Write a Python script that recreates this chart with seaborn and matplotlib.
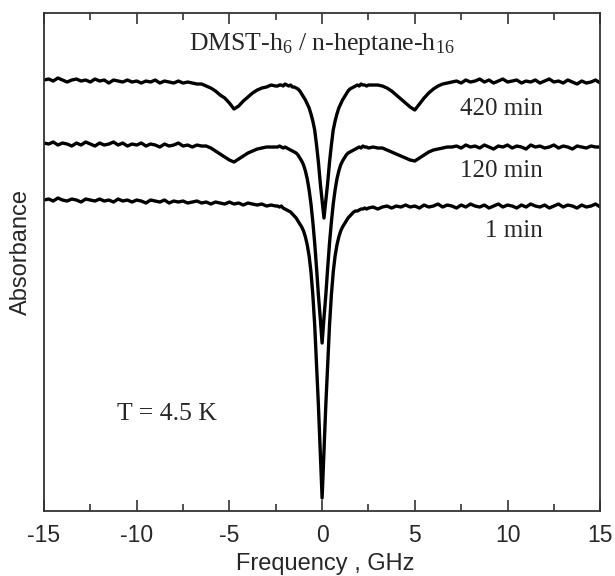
import numpy as np
import pandas as pd
import matplotlib
matplotlib.use("Agg")
import matplotlib.pyplot as plt
from matplotlib.ticker import MultipleLocator
import seaborn as sns

# frequency grid (GHz): coarse in the wings, finer across the central line
freq = np.concatenate([np.linspace(-15, -2.5, 51),
                       np.linspace(-2.4, 2.4, 49),
                       np.linspace(2.5, 15, 51)])

# absorbance (arbitrary units)
abs_420 = [
    431, 432, 430, 433, 431, 429, 431, 432, 430, 431,
    429, 432, 430, 431, 428, 431, 430, 429, 431, 429,
    430, 428, 430, 429, 431, 428, 430, 429, 428, 430,
    428, 429, 428, 427, 427, 425, 423, 420, 416, 413,
    408, 402, 405, 410, 414, 418, 421, 423, 424, 426,
    425,
    425, 426, 426, 425, 427, 426, 425, 426, 424, 424, 423, 422,
    420, 417, 414, 411, 407, 403, 397, 390, 381, 366, 349, 328,
    311, 293, 311, 328, 349, 366, 381, 390, 397, 403, 407, 411, 414,
    417, 420, 422, 423, 424, 425, 426, 425, 427, 426, 426, 425,
    426, 426, 426, 425, 423, 420, 416, 412, 408, 404,
    401, 407, 413, 418, 422, 425, 427, 428, 429,
    430, 428, 431, 429, 430, 432, 429, 431, 428, 430, 432, 429, 430, 431,
    428, 430, 429, 431, 428, 430, 432, 429, 430, 428, 431, 429, 427, 430,
    428, 429, 431, 428,
]

abs_120 = [
    368, 367, 369, 366, 368, 367, 365, 368, 366, 369,
    367, 365, 368, 366, 367, 369, 366, 368, 365, 367,
    366, 368, 365, 367, 366, 364, 367, 365, 366, 368,
    365, 366, 364, 366, 365,
    365, 363, 360, 357, 354, 351, 349, 352, 355, 358, 360, 362, 363, 364, 364, 364,
    364, 365, 364, 363, 364, 363, 362, 361, 360, 359, 358, 356,
    353, 350, 346, 340, 332, 321, 307, 289, 268, 243, 216, 193,
    168, 193, 216, 243, 268, 289, 307, 321, 332, 340, 346, 350, 353,
    356, 358, 359, 360, 361, 362, 363, 364, 363, 365, 364, 364,
    363, 364, 363, 363, 361, 359, 357, 355, 353, 351,
    350, 353, 356, 359, 361, 362, 363, 364, 364,
    365, 363, 366, 364, 365, 363, 366, 364, 362, 365, 364, 366, 363, 365,
    364, 362, 366, 364, 365, 363, 364, 366, 363, 365, 364, 362, 365, 364,
    363, 365, 364, 364,
]

abs_1 = [
    311, 312, 310, 313, 311, 310, 312, 311, 309, 312,
    311, 310, 312, 310, 311, 309, 312, 310, 311, 309,
    311, 310, 308, 311, 310, 309, 311, 308, 310, 309,
    310, 308, 309, 310, 308, 309, 307, 309, 308, 307,
    309, 307, 308, 306, 308, 307, 306, 307, 305, 306,
    305,
    305, 304, 305, 303, 302, 301, 300, 299, 297, 295, 293, 290,
    287, 284, 280, 274, 266, 255, 239, 216, 186, 147, 106, 59,
    13, 59, 106, 147, 186, 216, 239, 255, 266, 274, 280, 284, 287,
    290, 293, 295, 297, 299, 300, 300, 301, 302, 302, 303, 302,
    303, 304, 302, 304, 305, 303, 305, 304, 306, 304,
    305, 303, 306, 304, 305, 307, 304, 306, 305, 303,
    306, 304, 307, 305, 304, 306, 303, 305, 307, 304,
    306, 305, 303, 306, 304, 307, 305, 304, 306, 303,
    305, 307, 304, 306, 305, 303, 306, 304, 305, 307,
    304,
]

times = ["420 min", "120 min", "1 min"]

df = pd.concat([
    pd.DataFrame({"freq": freq, "absorbance": vals, "time": t})
    for t, vals in zip(times, [abs_420, abs_120, abs_1])
])

sns.set_style("white")
plt.rcParams["font.family"] = ["Liberation Sans", "DejaVu Sans"]
plt.rcParams["mathtext.default"] = "regular"
plt.rcParams["axes.unicode_minus"] = False

fig = plt.figure(figsize=(6.15, 5.76), dpi=100)
ax = fig.add_axes([0.0715, 0.1128, 0.9045, 0.8646])

sns.lineplot(data=df, x="freq", y="absorbance", hue="time",
             palette=["black"] * 3, linewidth=2.4, legend=False,
             sort=False, ax=ax)

ax.set_xlim(-15, 15)
ax.set_ylim(0, 498)
ax.set_yticks([])
ax.xaxis.set_major_locator(MultipleLocator(5))
ax.xaxis.set_minor_locator(MultipleLocator(2.5))
ax.tick_params(axis="x", which="both", direction="in", top=True, bottom=True,
               color="#333333", width=1.2)
ax.tick_params(axis="x", which="major", length=8, pad=9, labelsize=16.5)
ax.tick_params(axis="x", which="minor", length=5)
for s in ax.spines.values():
    s.set_color("#333333")
    s.set_linewidth(1.3)

ax.set_xlabel("Frequency , GHz", fontsize=17)
ax.xaxis.set_label_coords(0.505, -0.084)
ax.set_ylabel("Absorbance", fontsize=17)
ax.yaxis.set_label_coords(-0.022, 0.52)

serif = ["Liberation Serif", "DejaVu Serif"]
ax.text(0, 461, "DMST-h$_6$ / n-heptane-h$_{16}$", ha="center",
        va="baseline", fontsize=18.5, family=serif)
ax.text(11.9, 396, "420 min", ha="right", va="baseline", fontsize=18, family=serif)
ax.text(11.9, 334, "120 min", ha="right", va="baseline", fontsize=18, family=serif)
ax.text(11.9, 274, "1 min", ha="right", va="baseline", fontsize=18, family=serif)
ax.text(-11.07, 91, "T = 4.5 K", ha="left", va="baseline", fontsize=18.5, family=serif)

fig.savefig("out.png", dpi=100)
